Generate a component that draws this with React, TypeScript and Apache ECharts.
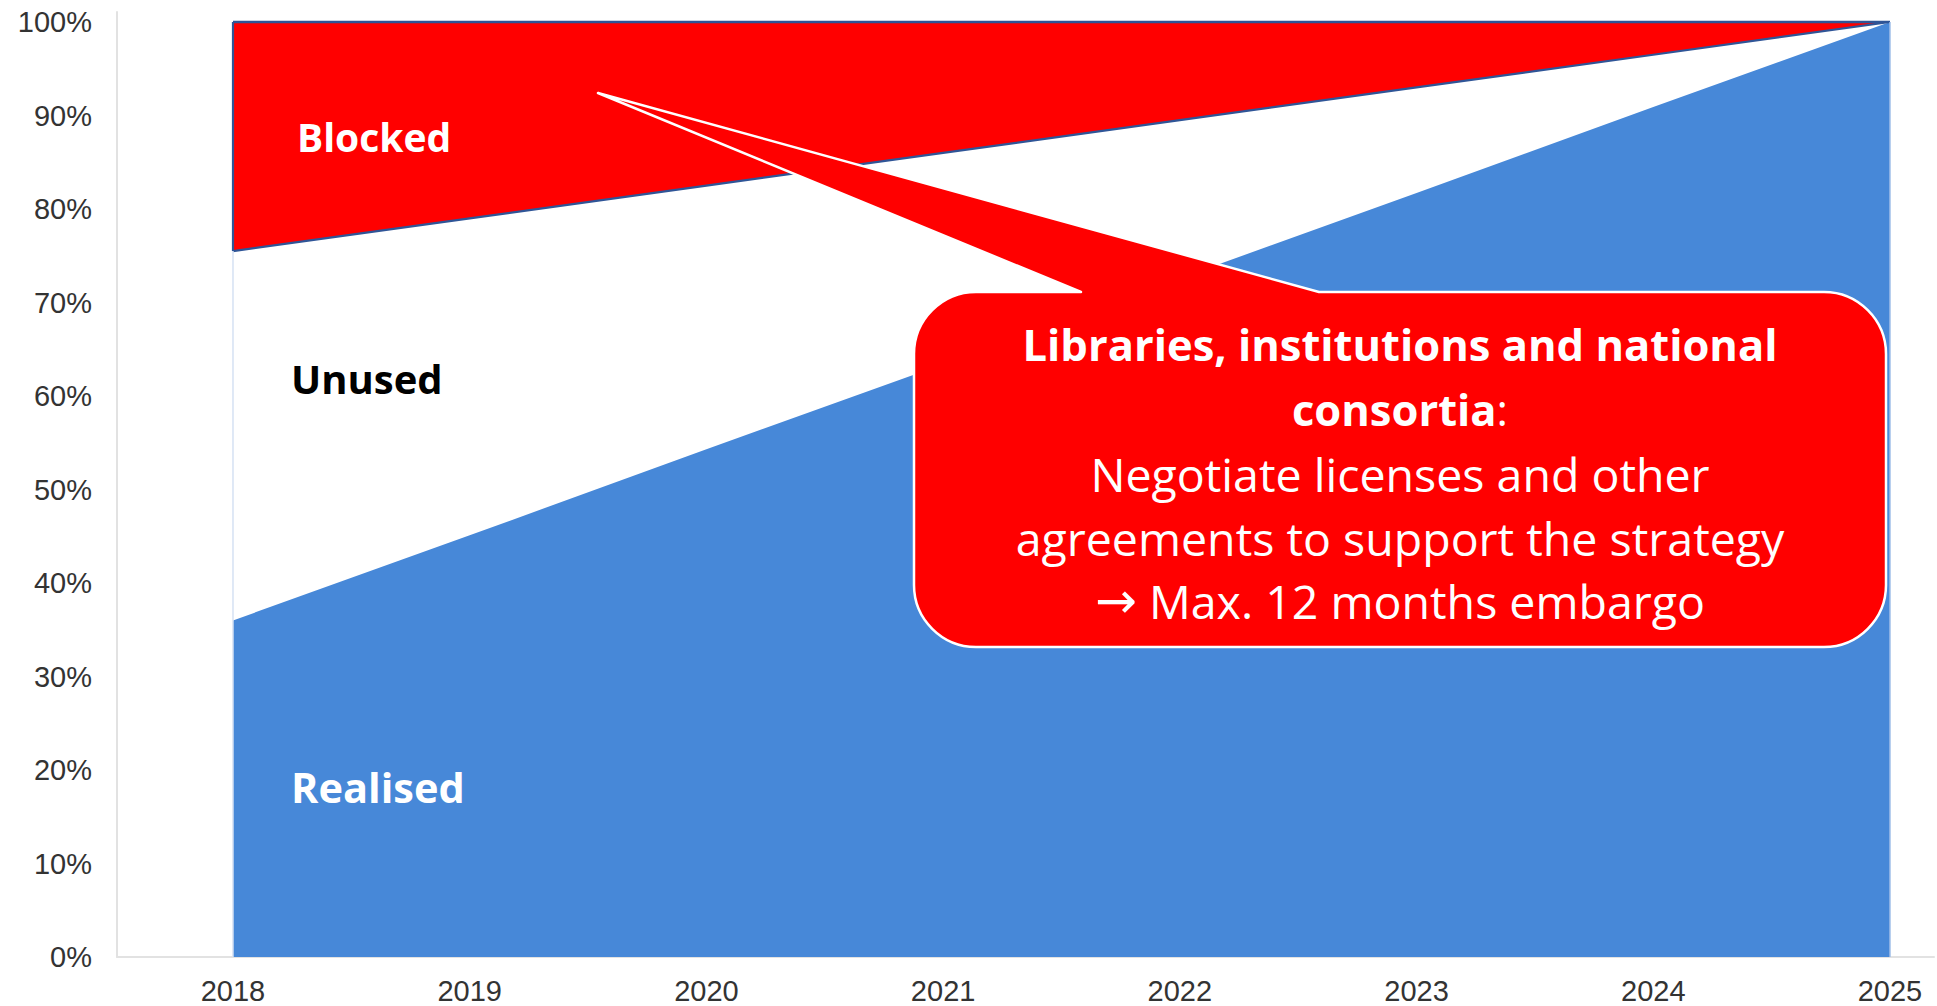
import React, { useEffect, useRef } from "react";
import * as echarts from "echarts";

// ---- data ----
const years = [2018, 2019, 2020, 2021, 2022, 2023, 2024, 2025];
const realised = [36, 45.1, 54.3, 63.4, 72.6, 81.7, 90.9, 100];
const unused = [39.5, 33.9, 28.2, 22.6, 16.9, 11.3, 5.6, 0];
const blocked = [24.5, 21, 17.5, 14, 10.5, 7, 3.5, 0];
const seriesNames = ["Realised", "Unused", "Blocked"];
const calloutBold1 = "Libraries, institutions and national";
const calloutBold2 = "consortia";
const calloutLine3 = "Negotiate licenses and other";
const calloutLine4 = "agreements to support the strategy";
const calloutArrow = "\u2192";
const calloutLine5 = " Max. 12 months embargo";

// ---- callout geometry (pixels) ----
const BX0 = 914, BY0 = 292, BX1 = 1886, BY1 = 647, BR = 62;
const TAIL_L = 1081, TAIL_R = 1319, TIP_X = 598, TIP_Y = 93;
const K = 0.45; // cubic corner handle factor (approx. circular corner)
const calloutPath =
  `M ${BX0 + BR} ${BY0} L ${TAIL_L} ${BY0} L ${TIP_X} ${TIP_Y} L ${TAIL_R} ${BY0} ` +
  `L ${BX1 - BR} ${BY0} C ${BX1 - BR * K} ${BY0} ${BX1} ${BY0 + BR * K} ${BX1} ${BY0 + BR} L ${BX1} ${BY1 - BR} ` +
  `C ${BX1} ${BY1 - BR * K} ${BX1 - BR * K} ${BY1} ${BX1 - BR} ${BY1} L ${BX0 + BR} ${BY1} ` +
  `C ${BX0 + BR * K} ${BY1} ${BX0} ${BY1 - BR * K} ${BX0} ${BY1 - BR} L ${BX0} ${BY0 + BR} ` +
  `C ${BX0} ${BY0 + BR * K} ${BX0 + BR * K} ${BY0} ${BX0 + BR} ${BY0} Z`;

let registered = false;

export default function App() {
  const ref = useRef<HTMLDivElement>(null);
  useEffect(() => {
    if (!ref.current) return;
    if (!registered) {
      echarts.graphic.registerShape("callout", echarts.graphic.extendPath(calloutPath, {}));
      registered = true;
    }
    const chart = echarts.init(ref.current, null, { renderer: "svg" });
    // cumulative tops (stacked manually)
    const top1 = realised.slice();
    const top2 = realised.map((v, i) => v + unused[i]);
    const top3 = top2.map((v, i) => v + blocked[i]);
    const pts = (arr: number[]) => years.map((y, i) => [y, arr[i]]);
    const axisFont = { fontFamily: "Liberation Sans", fontSize: 29, color: "#333333" };
    const cx = (BX0 + BX1) / 2;
    const white = "#ffffff";
    const outline = "#2f5597";
    const option: any = {
      animation: false,
      grid: { left: 117, right: 0, top: 12, bottom: 49, containLabel: false },
      xAxis: {
        type: "value",
        min: 2017.51,
        max: 2025.186,
        splitNumber: 8,
        minInterval: 1,
        maxInterval: 1,
        axisLine: { show: true, lineStyle: { color: "#e2e2e2", width: 2 } },
        axisTick: { show: false },
        splitLine: { show: false },
        axisLabel: {
          ...axisFont,
          margin: 19,
          formatter: (v: number) => (Number.isInteger(v) ? String(v) : ""),
        },
      },
      yAxis: {
        type: "value",
        min: 0,
        max: 101.07,
        interval: 10,
        axisLine: { show: true, lineStyle: { color: "#e2e2e2", width: 2 } },
        axisTick: { show: false },
        splitLine: { show: false },
        axisLabel: {
          ...axisFont,
          margin: 25,
          showMaxLabel: false,
          formatter: (v: number) => (Math.abs(v % 10) < 1e-6 ? v + "%" : ""),
        },
      },
      series: [
        {
          name: seriesNames[2],
          type: "line",
          data: pts(top3),
          symbol: "none",
          lineStyle: { width: 2.5, color: outline },
          areaStyle: { color: "#ff0000", opacity: 1 },
          z: 2,
        },
        {
          name: seriesNames[1],
          type: "line",
          data: pts(top2),
          symbol: "none",
          lineStyle: { width: 0, color: "#ffffff" },
          areaStyle: { color: "#ffffff", opacity: 1 },
          z: 3,
        },
        {
          name: seriesNames[0],
          type: "line",
          data: pts(top1),
          symbol: "none",
          lineStyle: { width: 0, color: "#4788d8" },
          areaStyle: { color: "#4788d8", opacity: 1 },
          z: 4,
        },
        {
          type: "line",
          data: pts(top2),
          symbol: "none",
          lineStyle: { width: 2.2, color: outline },
          z: 5,
        },
        {
          type: "line",
          data: [[years[0], top2[0]], [years[0], top3[0]]],
          symbol: "none",
          lineStyle: { width: 2.2, color: outline },
          z: 6,
        },
        {
          type: "line",
          data: [[years[0], 0], [years[0], top2[0]]],
          symbol: "none",
          lineStyle: { width: 1.5, color: "#d5e1f3" },
          z: 6,
        },
        {
          type: "line",
          data: [[years[years.length - 1], 0], [years[years.length - 1], top3[top3.length - 1]]],
          symbol: "none",
          lineStyle: { width: 1.5, color: "#9dbce8" },
          z: 6,
        },
      ],
      graphic: [
        {
          type: "text",
          x: 297,
          y: 136,
          z: 10,
          style: { text: seriesNames[2], fill: white, fontFamily: "Open Sans", fontWeight: "bold", fontSize: 39, verticalAlign: "middle" },
        },
        {
          type: "text",
          x: 291,
          y: 378,
          z: 10,
          style: { text: seriesNames[1], fill: "#000000", fontFamily: "Open Sans", fontWeight: "bold", fontSize: 40, verticalAlign: "middle" },
        },
        {
          type: "text",
          x: 291,
          y: 787,
          z: 10,
          style: { text: seriesNames[0], fill: white, fontFamily: "Open Sans", fontWeight: "bold", fontSize: 41.5, verticalAlign: "middle" },
        },
        {
          type: "callout",
          x: 0,
          y: 0,
          z: 20,
          style: { fill: "#ff0000", stroke: white, lineWidth: 2.5, lineJoin: "round" },
        },
        {
          type: "text",
          x: cx,
          y: 344,
          z: 21,
          style: { text: calloutBold1, fill: white, fontFamily: "Open Sans", fontWeight: "bold", fontSize: 43.5, align: "center", verticalAlign: "middle" },
        },
        {
          type: "text",
          x: cx,
          y: 409,
          z: 21,
          style: {
            text: `{b|${calloutBold2}}{n|:}`,
            align: "center",
            verticalAlign: "middle",
            rich: {
              b: { fill: white, fontFamily: "Open Sans", fontWeight: "bold", fontSize: 43.5 },
              n: { fill: white, fontFamily: "Open Sans", fontWeight: "normal", fontSize: 43.5 },
            },
          },
        },
        {
          type: "text",
          x: cx,
          y: 474,
          z: 21,
          style: { text: calloutLine3, fill: white, fontFamily: "Open Sans", fontSize: 46.5, align: "center", verticalAlign: "middle" },
        },
        {
          type: "text",
          x: cx,
          y: 538,
          z: 21,
          style: { text: calloutLine4, fill: white, fontFamily: "Open Sans", fontSize: 46.5, align: "center", verticalAlign: "middle" },
        },
        {
          type: "text",
          x: cx,
          y: 601,
          z: 21,
          style: {
            text: `{a|${calloutArrow}}{t|${calloutLine5}}`,
            align: "center",
            verticalAlign: "middle",
            rich: {
              a: { fill: white, fontFamily: "DejaVu Sans", fontSize: 50 },
              t: { fill: white, fontFamily: "Open Sans", fontSize: 46.5 },
            },
          },
        },
      ],
    };
    chart.setOption(option);
    return () => chart.dispose();
  }, []);
  return (
    <div
      ref={ref}
      style={{ position: "fixed", left: 0, top: 0, width: 1937, height: 1006, background: "#ffffff" }}
    />
  );
}
